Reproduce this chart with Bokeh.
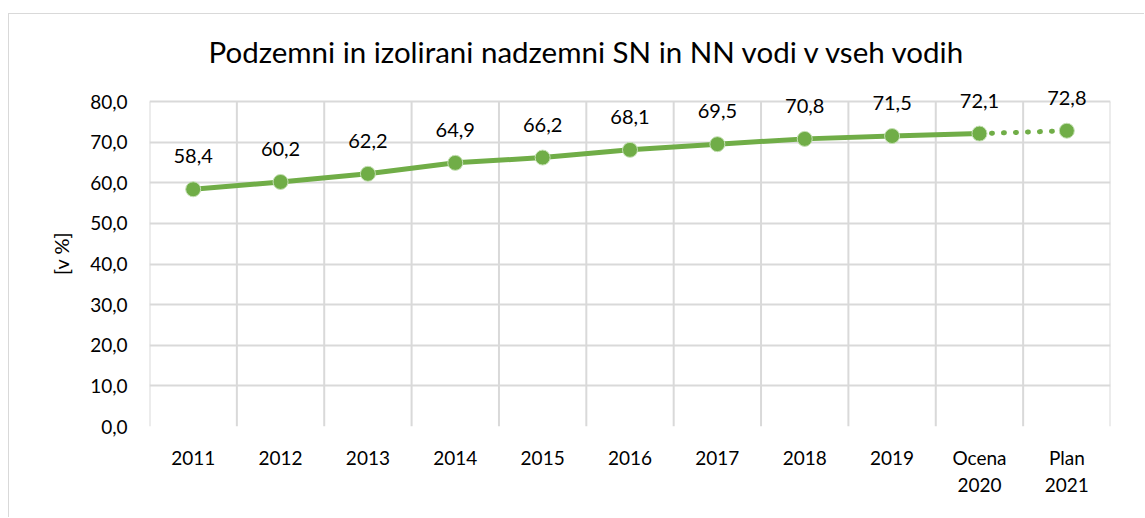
from bokeh.plotting import figure
from bokeh.models import ColumnDataSource, FixedTicker, Range1d, Label
from bokeh.embed import file_html
from bokeh.resources import INLINE

categories = ["2011", "2012", "2013", "2014", "2015", "2016", "2017", "2018", "2019", "Ocena\n2020", "Plan\n2021"]
values = [58.4, 60.2, 62.2, 64.9, 66.2, 68.1, 69.5, 70.8, 71.5, 72.1, 72.8]
y_ticks = [0, 10, 20, 30, 40, 50, 60, 70, 80]
title_text = "Podzemni in izolirani nadzemni SN in NN vodi v vseh vodih"
y_label = "[v %]"

FONT = "Lato"
GREEN = "#70AD47"
GRID = "#D9D9D9"

xs = list(range(len(categories)))
labels = [f"{v:.1f}".replace(".", ",") for v in values]
y_min, y_max = y_ticks[0], y_ticks[-1]
# headroom above the plot area so value labels are not clipped (plot area top = y_max)
headroom = 21 / (325 / (y_max - y_min))

src = ColumnDataSource(dict(x=xs, y=values, lab=labels))
solid = ColumnDataSource(dict(x=xs[:-1], y=values[:-1]))
dotted = ColumnDataSource(dict(x=xs[-2:], y=values[-2:]))
bounds = [i - 0.5 for i in range(len(categories) + 1)]
vgrid = ColumnDataSource(dict(x=bounds, y0=[y_min] * len(bounds), y1=[y_max] * len(bounds)))

p = figure(width=1136, height=504, output_backend="svg", toolbar_location=None,
           x_range=Range1d(-0.5, len(categories) - 0.5), y_range=Range1d(y_min, y_max + headroom),
           min_border_left=140, min_border_right=35, min_border_top=66, min_border_bottom=92)
p.styles = {"margin-left": "8px", "margin-top": "13px",
            "border-left": f"1px solid {GRID}", "border-top": f"1px solid {GRID}"}

p.title.text = title_text
p.title.text_font = FONT
p.title.text_font_size = "29.5px"
p.title.text_font_style = "normal"
p.title.text_color = "black"
p.title.align = "left"
p.title.offset = 59
p.title.standoff = 23

p.outline_line_color = None

# axes
p.xaxis.ticker = FixedTicker(ticks=xs)
p.xaxis.major_label_overrides = {i: c for i, c in enumerate(categories)}
p.yaxis.ticker = FixedTicker(ticks=y_ticks)
p.yaxis.major_label_overrides = {t: f"{t},0" for t in y_ticks}
p.yaxis.bounds = (y_min, y_max)
for ax in (p.xaxis[0], p.yaxis[0]):
    ax.axis_line_color = None
    ax.major_tick_line_color = None
    ax.minor_tick_line_color = None
    ax.major_label_text_font = FONT
    ax.major_label_text_font_size = "19px"
    ax.major_label_text_color = "black"
p.xaxis.major_label_standoff = 13
p.yaxis.major_label_standoff = 16
p.yaxis.axis_label = y_label
p.yaxis.axis_label_text_font = FONT
p.yaxis.axis_label_text_font_size = "20px"
p.yaxis.axis_label_text_font_style = "normal"
p.yaxis.axis_label_text_color = "black"
p.yaxis.axis_label_standoff = 14

# grids
p.xgrid.visible = False
p.segment(x0="x", y0="y0", x1="x", y1="y1", source=vgrid, line_color=GRID, line_width=2, level="underlay")
p.ygrid.ticker = FixedTicker(ticks=y_ticks)
p.ygrid.grid_line_color = GRID
p.ygrid.grid_line_width = 2

p.line("x", "y", source=solid, line_color=GREEN, line_width=5, line_join="round")
p.line("x", "y", source=dotted, line_color=GREEN, line_width=5, line_dash="1 11", line_cap="round")
p.scatter("x", "y", source=src, size=15, fill_color=GREEN, line_color="#C5E0B4", line_width=1)
for xi, yi, lab in zip(xs, values, labels):
    p.add_layout(Label(x=xi, y=yi, text=lab, text_font=FONT, text_font_size="20px",
                       text_align="center", text_baseline="middle", y_offset=33,
                       text_color="black"))

open("out.html", "w").write(file_html(p, INLINE))
